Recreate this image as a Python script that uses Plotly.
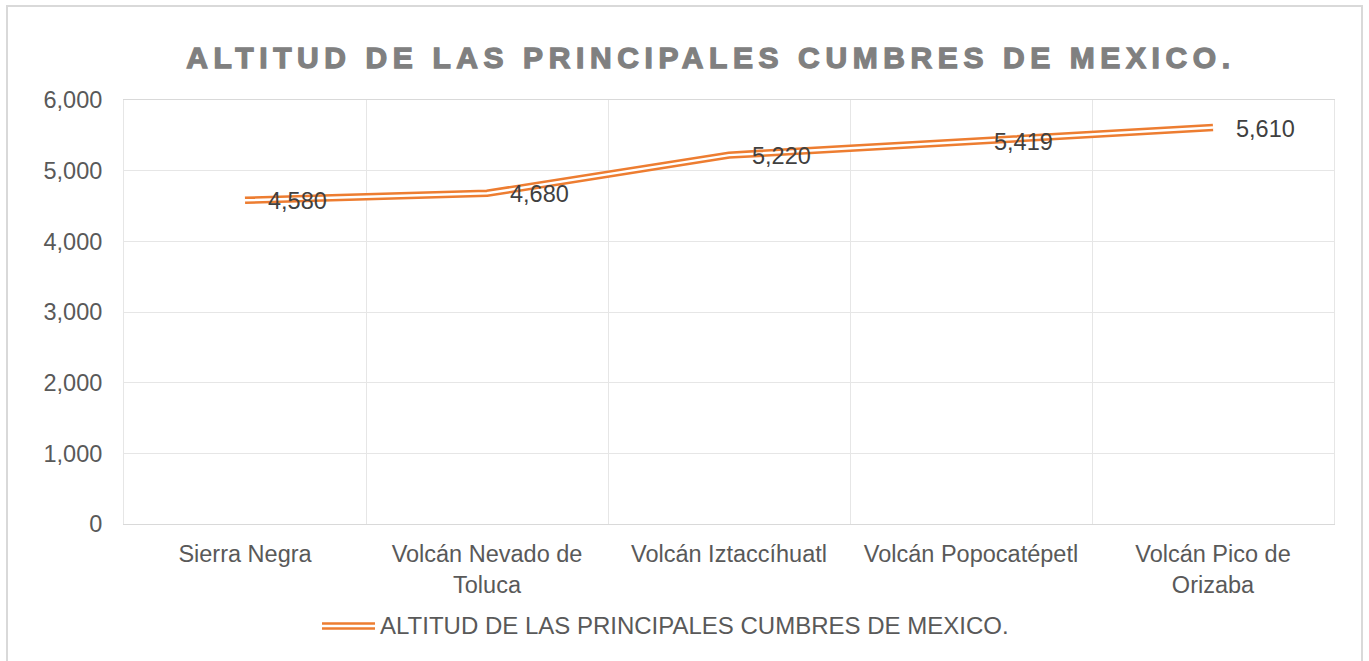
import plotly.graph_objects as go

# ---- data ----
categories = ["Sierra Negra", "Volcán Nevado de<br>Toluca", "Volcán Iztaccíhuatl",
              "Volcán Popocatépetl", "Volcán Pico de<br>Orizaba"]
altitudes = [4580, 4680, 5220, 5419, 5610]
series_name = "ALTITUD DE LAS PRINCIPALES CUMBRES DE MEXICO."
title_text = "ALTITUD DE LAS PRINCIPALES CUMBRES DE MEXICO."
y_ticks = [0, 1000, 2000, 3000, 4000, 5000, 6000]

# ---- style ----
FONT = "Liberation Sans, Arial, sans-serif"
ORANGE = "#ED7D31"
GRID = "#e6e6e6"
W, H = 1369, 661
L, R, T, B = 124, 35, 100, 137
PW, PH = W - L - R, H - T - B


def px_to_paper_x(px):
    return (px - L) / PW


def px_to_paper_y(py):
    return (H - B - py) / PH


fig = go.Figure()
# compound (double) line: thick orange with thin white stripe on top
fig.add_trace(go.Scatter(x=categories, y=altitudes, mode="lines", name=series_name,
                         line=dict(color=ORANGE, width=7.5), showlegend=False,
                         hoverinfo="skip"))
fig.add_trace(go.Scatter(x=categories, y=altitudes, mode="lines", name=series_name,
                         line=dict(color="white", width=2.5), showlegend=False))

annotations = []
for c, v in zip(categories, altitudes):
    annotations.append(dict(x=c, y=v, xref="x", yref="y", text=f"{v:,}",
                            showarrow=False, xanchor="left", yanchor="middle",
                            xshift=21, yshift=-1,
                            font=dict(family=FONT, size=23.5, color="#404040")))

# custom legend (double line symbol + label)
leg_y = px_to_paper_y(625)
annotations.append(dict(x=px_to_paper_x(378), y=leg_y, xref="paper", yref="paper",
                        text=series_name, showarrow=False, xanchor="left", yanchor="middle",
                        font=dict(family=FONT, size=24, color="#595959")))

shapes = [
    # outer chart border
    dict(type="rect", xref="paper", yref="paper",
         x0=px_to_paper_x(7), x1=px_to_paper_x(1362),
         y0=px_to_paper_y(675), y1=px_to_paper_y(6),
         line=dict(color="#d9d9d9", width=2), fillcolor="rgba(0,0,0,0)", layer="below"),
    dict(type="line", xref="paper", yref="paper",
         x0=px_to_paper_x(322), x1=px_to_paper_x(375), y0=px_to_paper_y(626), y1=px_to_paper_y(626),
         line=dict(color=ORANGE, width=7.5)),
    dict(type="line", xref="paper", yref="paper",
         x0=px_to_paper_x(322), x1=px_to_paper_x(375), y0=px_to_paper_y(626), y1=px_to_paper_y(626),
         line=dict(color="white", width=2.5)),
]

fig.update_layout(
    width=W, height=H,
    margin=dict(l=L, r=R, t=T, b=B, pad=0),
    paper_bgcolor="white", plot_bgcolor="white",
    font=dict(family=FONT, size=23.5, color="#595959"),
    title=dict(text=(f'<span style="letter-spacing:5.6px;stroke:#808080;stroke-width:1.3px">'
                     f'{title_text}</span>'),
               x=px_to_paper_x(711), xref="paper", xanchor="center",
               y=1 - 57.5 / H, yref="container", yanchor="middle",
               font=dict(family=FONT, size=30, color="#808080", weight="bold")),
    showlegend=False,
    annotations=annotations,
    shapes=shapes,
)
fig.update_xaxes(type="category", range=[-0.5, len(categories) - 0.5],
                 tickson="boundaries", showgrid=True, gridcolor=GRID, gridwidth=1,
                 showline=True, linecolor="#d9d9d9", linewidth=1, mirror=True,
                 ticks="", ticklabelstandoff=9,
                 tickfont=dict(family=FONT, size=23.5, color="#595959"), zeroline=False)
fig.update_yaxes(range=[0, 6000], tickvals=y_ticks, tickformat=",",
                 showgrid=True, gridcolor=GRID, gridwidth=1,
                 showline=True, linecolor=GRID, linewidth=1, mirror=True,
                 ticks="outside", ticklen=16, tickcolor="rgba(0,0,0,0)",
                 tickfont=dict(family=FONT, size=23.5, color="#595959"), zeroline=False)

fig.write_html("out.html", config={"displayModeBar": False},
               post_script="document.body.style.margin='0';document.body.style.overflow='hidden';")
